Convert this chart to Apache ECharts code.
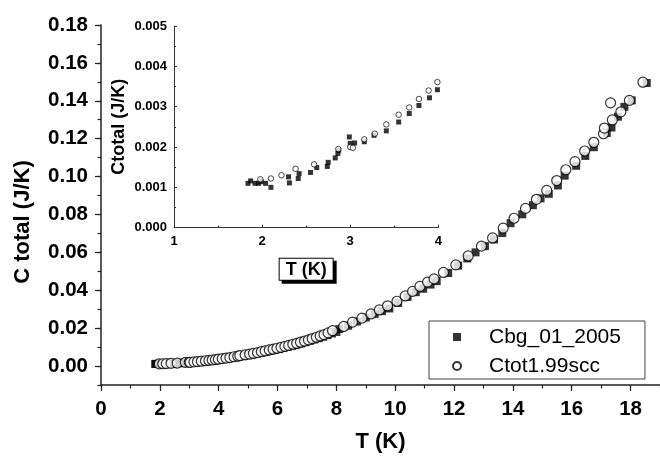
<!DOCTYPE html>
<html>
<head>
<meta charset="utf-8">
<script src="https://cdn.jsdelivr.net/npm/echarts@6/dist/echarts.min.js"></script>
<style>
  html, body { margin: 0; padding: 0; background: #fff; }
  #chart { width: 660px; height: 458px; }
</style>
</head>
<body>
<div id="chart"></div>
<script>
// Cbg_01_2005 (filled squares)
const cbgTemp = [
  1.84, 1.87, 1.92, 1.96, 1.99, 2.04, 2.10, 2.30, 2.31, 2.41, 2.42, 2.55, 2.62, 2.74, 2.75,
  2.83, 2.86, 2.87, 2.99, 3.00, 3.05, 3.16, 3.27, 3.41, 3.55, 3.67, 3.78, 3.90, 3.99,
  4.10, 4.25, 4.40, 4.55, 4.70, 4.85, 5.00, 5.15, 5.30, 5.45, 5.60, 5.75, 5.90, 6.05,
  6.20, 6.35, 6.50, 6.65, 6.80, 6.95, 7.10, 7.25, 7.40, 7.55, 7.70, 7.85,
  8.00, 8.10, 8.40, 8.70, 9.00, 9.30, 9.55, 9.80, 10.10, 10.42, 10.70, 10.95, 11.20, 11.41,
  11.80, 12.14, 12.45, 12.73, 13.05, 13.36, 13.64, 13.92, 14.32, 14.68, 14.94, 15.22, 15.53,
  15.76, 16.15, 16.46, 16.75, 17.19, 17.35, 17.57, 17.79, 18.04, 18.55
];
const cbgHeat = [
  0.00110, 0.00116, 0.00110, 0.00110, 0.00114, 0.00110, 0.00100, 0.00126, 0.00111, 0.00122,
  0.00134, 0.00137, 0.00149, 0.00152, 0.00162, 0.00173, 0.00184, 0.00192, 0.00225, 0.00209,
  0.00210, 0.00213, 0.00229, 0.00240, 0.00262, 0.00283, 0.00303, 0.00322, 0.00342,
  0.0036, 0.0039, 0.0042, 0.0046, 0.0049, 0.0053, 0.0057, 0.0061, 0.0066, 0.0070, 0.0075,
  0.0080, 0.0085, 0.0090, 0.0096, 0.0101, 0.0107, 0.0113, 0.0119, 0.0126, 0.0133, 0.0140,
  0.0147, 0.0155, 0.0163, 0.0172,
  0.0180, 0.0195, 0.0213, 0.0235, 0.0256, 0.0275, 0.0290, 0.0304, 0.0333, 0.0365, 0.0390,
  0.0408, 0.0430, 0.0448, 0.0491, 0.0530, 0.0568, 0.0600, 0.0633, 0.0668, 0.0702, 0.0754,
  0.0801, 0.0849, 0.0885, 0.0909, 0.0953, 0.1005, 0.1057, 0.1109, 0.1155, 0.1230, 0.1259,
  0.1316, 0.1368, 0.1402, 0.1494
];

// Ctot1.99scc (open circles)
const ctotTemp = [
  1.98, 2.10, 2.22, 2.38, 2.59, 2.865, 3.00, 3.03, 3.16, 3.28, 3.41, 3.55, 3.67, 3.78, 3.89, 3.99,
  4.12, 4.25, 4.38, 4.52, 4.65, 4.72, 4.90, 5.05, 5.18, 5.32, 5.45, 5.58, 5.72, 5.85, 5.98,
  6.12, 6.25, 6.38, 6.52, 6.65, 6.78, 6.92, 7.05, 7.18, 7.32, 7.45, 7.58, 7.72,
  7.87, 8.25, 8.55, 8.87, 9.18, 9.46, 9.74, 10.06, 10.34, 10.59, 10.84, 11.10, 11.32, 11.64,
  12.06, 12.48, 12.93, 13.31, 13.67, 14.04, 14.43, 14.80, 15.15, 15.49, 15.80, 16.11, 16.44,
  16.75, 17.08, 17.11, 17.32, 17.38, 17.67, 17.96, 18.42
];
const ctotHeat = [
  0.00120, 0.00122, 0.00130, 0.00146, 0.00157, 0.00195, 0.00200, 0.00198, 0.00219, 0.00233,
  0.00256, 0.00280, 0.00298, 0.00319, 0.00340, 0.00361,
  0.0039, 0.0042, 0.0045, 0.0049, 0.0052, 0.0055, 0.0059, 0.0063, 0.0067, 0.0071, 0.0076,
  0.0080, 0.0085, 0.0089, 0.0094, 0.0099, 0.0104, 0.0109, 0.0115, 0.0120, 0.0126, 0.0132,
  0.0138, 0.0145, 0.0152, 0.0159, 0.0166, 0.0175,
  0.0187, 0.0209, 0.0232, 0.0253, 0.0275, 0.0296, 0.0318, 0.0342, 0.0370, 0.0394, 0.0420,
  0.0443, 0.0460, 0.0494, 0.0534, 0.0581, 0.0633, 0.0676, 0.0728, 0.0780, 0.0832, 0.0880,
  0.0927, 0.0979, 0.1036, 0.1079, 0.1135, 0.1181, 0.1226, 0.1256, 0.1389, 0.1299, 0.1342,
  0.1402, 0.1498
];

const xMajorTicks = [0, 2, 4, 6, 8, 10, 12, 14, 16, 18];
const yMajorTicks = [0, 0.02, 0.04, 0.06, 0.08, 0.10, 0.12, 0.14, 0.16, 0.18];

const FONT = '"Liberation Sans", Arial, sans-serif';
const AXIS_COLOR = '#222';

const cbgData = cbgTemp.map((t, i) => [t, cbgHeat[i]]);
const ctotData = ctotTemp.map((t, i) => [t, ctotHeat[i]]);

const chart = echarts.init(document.getElementById('chart'), null, { renderer: 'canvas' });

const tickLabel = {
  color: '#000', fontFamily: FONT, fontWeight: 'bold', fontSize: 20.5
};
const insetLabel = {
  color: '#000', fontFamily: FONT, fontWeight: 'bold', fontSize: 13
};

const option = {
  animation: false,
  backgroundColor: '#fff',
  grid: [
    { left: 101, top: 25, width: 560.5, height: 366.5 },
    { left: 174, top: 26, width: 264.3, height: 201.7 }
  ],
  legend: {
    left: 429,
    top: 321,
    orient: 'vertical',
    borderColor: '#444',
    borderWidth: 1,
    padding: [5, 24, 2, 23],
    itemGap: 7,
    itemWidth: 8,
    itemHeight: 8,
    textStyle: {
      fontFamily: FONT, fontSize: 21, color: '#000',
      lineHeight: 22, padding: [0, 0, 0, 23]
    },
    data: [
      { name: 'Cbg_01_2005', icon: 'rect' },
      { name: 'Ctot1.99scc', icon: 'circle' }
    ]
  },
  xAxis: [
    {
      gridIndex: 0, type: 'value', min: 0, max: 19, interval: 1, position: 'bottom',
      name: 'T (K)', nameLocation: 'middle', nameGap: 46,
      nameTextStyle: { fontFamily: FONT, fontWeight: 'bold', fontSize: 22, color: '#000' },
      axisLine: { onZero: false, lineStyle: { color: AXIS_COLOR, width: 1.5 } },
      axisTick: { length: 3.5, lineStyle: { color: AXIS_COLOR, width: 1.2 } },
      axisLabel: Object.assign({ customValues: xMajorTicks, margin: 14 }, tickLabel),
      splitLine: { show: false }
    },
    {
      gridIndex: 0, type: 'value', min: 0, max: 19, position: 'bottom',
      axisLine: { show: false, onZero: false },
      axisTick: { customValues: xMajorTicks, length: 6, lineStyle: { color: AXIS_COLOR, width: 1.2 } },
      axisLabel: { show: false },
      splitLine: { show: false }
    },
    {
      gridIndex: 1, type: 'value', min: 1, max: 4, interval: 1, position: 'bottom',
      name: 'T (K)', nameLocation: 'middle', nameGap: 31,
      nameTextStyle: {
        fontFamily: FONT, fontWeight: 'bold', fontSize: 18, color: '#000',
        backgroundColor: '#fff', borderColor: '#000', borderWidth: 1,
        padding: [2, 6, 1, 6],
        shadowColor: '#000', shadowBlur: 0, shadowOffsetX: 3, shadowOffsetY: 3
      },
      axisLine: { onZero: false, lineStyle: { color: '#333', width: 1 } },
      axisTick: { inside: true, length: 3, lineStyle: { color: '#333' } },
      minorTick: { show: true, splitNumber: 2, length: 2, lineStyle: { color: '#333' } },
      axisLabel: Object.assign({ margin: 7 }, insetLabel),
      splitLine: { show: false }
    }
  ],
  yAxis: [
    {
      gridIndex: 0, type: 'value', min: -0.01, max: 0.18, interval: 0.01, position: 'left',
      name: 'C total (J/K)', nameLocation: 'middle', nameGap: 67,
      nameTextStyle: {
        fontFamily: FONT, fontWeight: 'bold', fontSize: 22, color: '#000',
        padding: [0, 34, 0, 0]
      },
      axisLine: { onZero: false, lineStyle: { color: AXIS_COLOR, width: 1.5 } },
      axisTick: { length: 3.5, lineStyle: { color: AXIS_COLOR, width: 1.2 } },
      axisLabel: Object.assign({
        customValues: yMajorTicks, margin: 13,
        formatter: v => v.toFixed(2)
      }, tickLabel),
      splitLine: { show: false }
    },
    {
      gridIndex: 0, type: 'value', min: -0.01, max: 0.18, position: 'left',
      axisLine: { show: false, onZero: false },
      axisTick: { customValues: yMajorTicks, length: 6, lineStyle: { color: AXIS_COLOR, width: 1.2 } },
      axisLabel: { show: false },
      splitLine: { show: false }
    },
    {
      gridIndex: 1, type: 'value', min: 0, max: 0.005, interval: 0.001, position: 'left',
      name: 'Ctotal (J/K)', nameLocation: 'middle', nameGap: 46,
      nameTextStyle: { fontFamily: FONT, fontWeight: 'bold', fontSize: 18, color: '#000' },
      axisLine: { onZero: false, lineStyle: { color: '#333', width: 1 } },
      axisTick: { inside: true, length: 3, lineStyle: { color: '#333' } },
      minorTick: { show: true, splitNumber: 2, length: 2, lineStyle: { color: '#333' } },
      axisLabel: Object.assign({ margin: 7, formatter: v => v.toFixed(3) }, insetLabel),
      splitLine: { show: false }
    }
  ],
  series: [
    {
      name: 'Cbg_01_2005', type: 'scatter', xAxisIndex: 0, yAxisIndex: 0,
      symbol: 'rect', symbolSize: 8, z: 2,
      itemStyle: { color: '#000' },
      data: cbgData
    },
    {
      name: 'Ctot1.99scc', type: 'scatter', xAxisIndex: 0, yAxisIndex: 0,
      symbol: 'circle', symbolSize: 10, z: 3,
      itemStyle: { color: '#fff', borderColor: '#000', borderWidth: 1.2 },
      data: ctotData
    },
    {
      name: 'Cbg_01_2005', type: 'scatter', xAxisIndex: 2, yAxisIndex: 2, clip: true,
      symbol: 'rect', symbolSize: 5, z: 2,
      itemStyle: { color: '#000' },
      data: cbgData
    },
    {
      name: 'Ctot1.99scc', type: 'scatter', xAxisIndex: 2, yAxisIndex: 2, clip: true,
      symbol: 'circle', symbolSize: 5.5, z: 3,
      itemStyle: { color: '#fff', borderColor: '#000', borderWidth: 0.9 },
      data: ctotData
    }
  ]
};

chart.setOption(option);
</script>
</body>
</html>
